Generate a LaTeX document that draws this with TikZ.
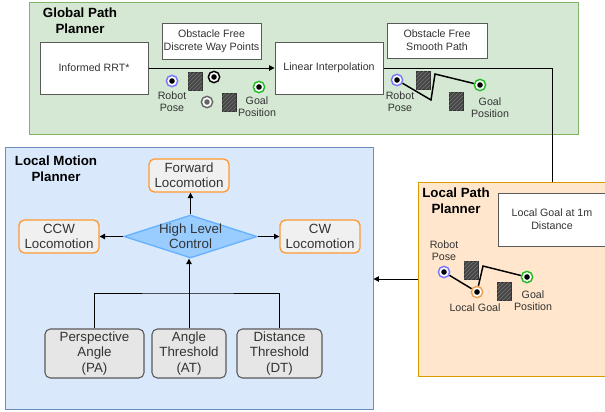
\documentclass[tikz,border=0pt]{standalone}
\usepackage{fontspec}
\setmainfont{Liberation Sans}
\usetikzlibrary{shapes.geometric,arrows.meta,patterns}

\definecolor{greenfill}{HTML}{D5E8D4}
\definecolor{greenline}{HTML}{82B366}
\definecolor{bluefill}{HTML}{DAE8FC}
\definecolor{blueline}{HTML}{6C8EBF}
\definecolor{orangefill}{HTML}{FFE6CC}
\definecolor{orangeline}{HTML}{D79B00}
\definecolor{locoline}{HTML}{FF9933}
\definecolor{boxgray}{HTML}{E6E6E6}
\definecolor{diafill}{HTML}{99CCFF}
\definecolor{dialine}{HTML}{66B2FF}
\definecolor{txt}{HTML}{333333}
\definecolor{poseblue}{HTML}{7777FF}
\definecolor{goalgreen}{HTML}{22BB22}
\definecolor{localorange}{HTML}{F0A050}

\begin{document}
\begin{tikzpicture}[x=0.75pt,y=-0.75pt,
    panel/.style={draw=#1, line width=0.75pt, inner sep=0},
    title/.style={align=center, font=\fontsize{10}{12}\selectfont\bfseries, text=black},
    note/.style={draw=black!65, fill=white, line width=0.75pt, align=center,
      font=\fontsize{8}{9.5}\selectfont, text=txt, inner sep=0},
    loco/.style={draw=locoline, fill=boxgray!60, line width=1pt, rounded corners=4pt,
      align=center, font=\fontsize{10}{11.5}\selectfont, text=txt,
      minimum width=60pt, minimum height=24.75pt, inner sep=0},
    param/.style={draw=black!65, fill=boxgray, line width=0.8pt, rounded corners=4pt,
      align=center, font=\fontsize{10}{11.7}\selectfont, text=txt,
      minimum height=36.75pt, inner sep=0},
    lbl/.style={align=center, font=\fontsize{8}{9}\selectfont, text=txt, inner sep=0},
    ring/.style 2 args={circle, draw=#1, fill=white, line width=1.1pt, inner sep=0,
      minimum size=8.5pt, path picture={\fill[#2] (path picture bounding box.center) circle (2.1pt);}},
    obst/.style={draw=black!80, fill=black!72, inner sep=0, minimum width=10.5pt,
      minimum height=13.5pt, postaction={pattern=north east lines, pattern color=black!55}},
    track/.style={line width=1.1pt},
    arr/.style={-{Triangle[length=4pt,width=4pt]}, line width=0.75pt}]

\useasboundingbox (0,0) rectangle (605,411);

% panels
\node[panel=greenline, fill=greenfill, minimum width=411.75pt, minimum height=99pt] (gpp) at (303.5,68) {};
\node[panel=blueline, fill=bluefill, minimum width=276pt, minimum height=196.5pt] (lmp) at (189,278) {};
\node[panel=orangeline, fill=orangefill, minimum width=147.75pt, minimum height=145.5pt] (lpp) at (516.5,279) {};

\node[title] (gpptitle) at (80,21) {Global Path\\Planner};
\node[title] (lmptitle) at (56,169) {Local Motion\\Planner};
\node[title] (lpptitle) at (456,201) {Local Path\\Planner};

% global path planner
\node[note, minimum width=81pt, minimum height=39pt] (rrt) at (94,68) {Informed RRT*};
\node[note, minimum width=74.25pt, minimum height=27pt] (wayp) at (211.5,41) {Obstacle Free\\Discrete Way Points};
\node[note, minimum width=81pt, minimum height=39pt] (lin) at (329,68) {Linear Interpolation};
\node[note, minimum width=75pt, minimum height=26.25pt] (smooth) at (437,40.5) {Obstacle Free\\Smooth Path};

\draw[arr] (rrt) -- (lin);

\node[ring={poseblue}{black}] (r1) at (172,81) {};
\node[obst] (o1) at (195,81) {};
\node[ring={black}{black}] (w1) at (214,77) {};
\node[ring={black!60}{black!60}] (w2) at (207,102) {};
\node[obst] (o2) at (229,102) {};
\node[ring={goalgreen}{black}] (g1) at (259,87) {};
\node[lbl] (r1lbl) at (172,102) {Robot\\Pose};
\node[lbl] (g1lbl) at (257,107) {Goal\\Position};

\node[ring={poseblue}{black}] (r2) at (397,80) {};
\node[obst] (o3) at (423,80) {};
\node[obst] (o4) at (456,101) {};
\node[ring={goalgreen}{black}] (g2) at (480,85) {};
\coordinate (b1) at (431,100);
\coordinate (b2) at (435,74);
\draw[track] (r2) -- (b1) -- (b2) -- (g2);
\node[lbl] (r2lbl) at (400,102) {Robot\\Pose};
\node[lbl] (g2lbl) at (490,108) {Goal\\Position};

% local path planner
\node[note, minimum width=81pt, minimum height=39.75pt] (lgoal) at (552,219.5) {Local Goal at 1m\\Distance};

\node[ring={poseblue}{black}] (r3) at (444,272) {};
\node[obst] (o5) at (471,270) {};
\node[ring={localorange}{black}] (l3) at (477,292) {};
\node[obst] (o6) at (504,291) {};
\node[ring={goalgreen}{black}] (g3) at (527,277) {};
\coordinate (b3) at (483,266);
\draw[track] (r3) -- (l3) -- (b3) -- (g3);
\node[lbl] (r3lbl) at (444,251) {Robot\\Pose};
\node[lbl] (l3lbl) at (475,308) {Local Goal};
\node[lbl] (g3lbl) at (533,301) {Goal\\Position};

\draw[line width=0.75pt] (lin.east) -| (lgoal.north |- lpp.north);
\draw[arr] (lpp.west) -- (lpp.west -| lmp.east);

% local motion planner
\node[loco] (fwd) at (189,175.5) {Forward\\Locomotion};
\node[loco] (ccw) at (59,236.5) {CCW\\Locomotion};
\node[loco] (cw) at (320,236.5) {CW\\Locomotion};
\node[diamond, draw=dialine, fill=diafill, line width=1pt, inner sep=0,
  minimum width=99.75pt, minimum height=32.25pt] (ctl) at (190.5,236.5) {};
\node[align=center, font=\fontsize{10}{11.5}\selectfont, text=txt, inner sep=0] (ctltext) at (ctl) {High Level\\Control};

\node[param, minimum width=74.25pt] (pa) at (94.5,353.5) {Perspective\\Angle\\(PA)};
\node[param, minimum width=55.5pt] (at) at (189,353.5) {Angle\\Threshold\\(AT)};
\node[param, minimum width=63.75pt] (dt) at (279.5,353.5) {Distance\\Threshold\\(DT)};

\draw[arr] (ctl.north) -- (fwd.south -| ctl.north);
\draw[arr] (ctl.west) -- (ccw.east);
\draw[arr] (ctl.east) -- (cw.west);
\coordinate (join) at (189,293);
\draw[line width=0.75pt] (pa.north) |- (join) -| (dt.north);
\draw[arr] (at.north) -- (at.north |- ctl.south);
\end{tikzpicture}
\end{document}
